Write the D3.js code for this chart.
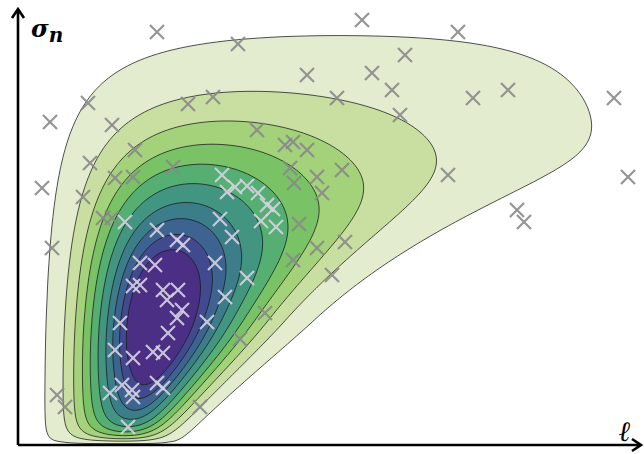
<!DOCTYPE html>
<html>
<head>
<meta charset="utf-8">
<script src="https://cdn.jsdelivr.net/npm/d3@7"></script>
<style>
  body { margin: 0; background: #fff; }
  svg { display: block; }
</style>
</head>
<body>
<div class="chart"></div>
<script>
// markers (sampled hyperparameters): length scale l and noise level sigma_n
const sampleL = [1.39, 2.20, 3.44, 4.40, 3.87, 3.54, 2.89, 3.74, 3.19, 3.82, 1.95, 1.70, 0.70, 4.55, 4.90, 5.96,
  0.32, 0.94, 2.39, 1.17, 4.30, 4.99, 5.06, 6.10, 0.24, 0.34, 0.72, 0.65, 2.67, 2.75, 2.89, 3.24, 2.72, 2.99,
  2.76, 3.04, 1.55, 0.97, 1.15, 2.04, 2.09, 2.17, 2.29, 2.40, 2.49, 2.55, 2.02, 2.14, 2.43, 2.58, 2.81, 3.27,
  2.99, 2.75, 3.14, 0.85, 0.94, 1.07, 1.39, 1.59, 1.65, 1.97, 2.29, 1.22, 1.37, 1.15, 1.22, 1.45, 1.60, 1.49,
  1.64, 1.59, 2.07, 1.89, 2.47, 2.22, 1.02, 1.50, 0.97, 1.15, 1.35, 1.45, 1.04, 0.92, 1.14, 1.15, 1.39, 1.45,
  1.10, 0.39, 0.47, 1.82];
const sampleS = [4.13, 4.01, 4.25, 4.13, 3.90, 3.72, 3.70, 3.55, 3.47, 3.30, 3.48, 3.41, 3.42, 3.47, 3.55, 3.47,
  3.23, 3.20, 3.15, 2.95, 2.70, 2.35, 2.23, 2.68, 2.57, 1.97, 2.82, 2.48, 3.00, 3.03, 2.95, 2.75, 2.77, 2.68,
  2.62, 2.52, 2.78, 2.67, 2.68, 2.70, 2.53, 2.58, 2.59, 2.52, 2.40, 2.36, 2.26, 2.08, 2.24, 2.18, 2.21, 2.03,
  1.97, 1.85, 1.70, 2.27, 2.27, 2.23, 2.15, 2.05, 2.00, 1.82, 1.67, 1.82, 1.80, 1.59, 1.60, 1.55, 1.55, 1.45,
  1.35, 1.27, 1.48, 1.23, 1.32, 1.06, 1.22, 1.12, 0.95, 0.87, 0.93, 0.92, 0.60, 0.52, 0.55, 0.48, 0.62, 0.57,
  0.18, 0.50, 0.38, 0.38];

// likelihood surface, shaped in (log l, -log(ceiling - sigma)) space around its peak
const peakL = 1.41, peakS = 1.25;
const spreadU = 0.5, spreadVUp = 0.37, spreadVDown = 0.32;
const bendLinear = 0.45, bendQuad = 0.24;
const lengthOffset = 0.03, noiseCeiling = 5.45, floorStart = 0.02, floorScale = 0.1;
// steep drop towards long length scale / small noise
const cliffStart = 0.78, cliffSlope = 1.6, cliffFoot = 3, cliffMax = 1.57, cliffBend = 0.09, cliffWidth = 0.29;

// each contour level is pinned where it crosses sigma_n = 1.45, left of the peak
const levelAnchorS = 1.45;
const levelAnchorL = [0.29, 0.48, 0.59, 0.68, 0.76, 0.84, 0.92, 0.99, 1.06, 1.13];
const levelColors = ['#e4ecd0', '#c9dfa2', '#a3d27a', '#79c266', '#55ae72', '#429580', '#3c7d8a', '#3d6490', '#424a8f', '#4a2f84'];

const lMax = 6.2, sMax = 4.37;

const softplus = t => t > 30 ? t : Math.log(1 + Math.exp(t));
const u0 = Math.log(peakL + lengthOffset), v0 = -Math.log(noiseCeiling - peakS);

function field(l, s) {
  const du = Math.log(l + lengthOffset) - u0, dv = -Math.log(noiseCeiling - s) - v0;
  const zu = (du - bendLinear * dv - bendQuad * dv * dv) / spreadU;
  const zv = dv / (dv > 0 ? spreadVUp : spreadVDown);
  const f = Math.exp(-0.5 * (zu * zu + zv * zv));
  const lin = cliffStart + cliffSlope * dv - cliffFoot * Math.min(0, dv) ** 2;
  const edge = cliffMax - cliffBend * softplus((cliffMax - lin) / cliffBend);
  const q = (edge - du) / cliffWidth;
  const cliff = q <= 0 ? 0 : 1 - Math.exp(-(q * q));
  const floor = s <= floorStart ? 0 : 1 - Math.exp(-(s - floorStart) / floorScale);
  return f * floor * cliff;
}

const width = 644, height = 454;
const svg = d3.select('.chart').append('svg').attr('width', width).attr('height', height);

const x = d3.scaleLinear().domain([0, lMax]).range([18, 638]);
const y = d3.scaleLinear().domain([0, sMax]).range([445, 8]);

//GRID
const step = 0.02;
const n = Math.round(lMax / step), m = Math.ceil(sMax / step);
const values = new Array(n * m);
for (let j = 0; j < m; j++)
  for (let i = 0; i < n; i++)
    values[j * n + i] = field((i + 0.5) * step, (j + 0.5) * step);

const thresholds = levelAnchorL.map(l => field(l, levelAnchorS));
const contours = d3.contours().size([n, m]).thresholds(thresholds)(values);

const path = d3.geoPath(d3.geoTransform({
  point: function (px, py) { this.stream.point(x(px * step), y(py * step)); }
}));

//FILLED CONTOURS
svg.append('g').selectAll('path')
  .data(contours)
  .join('path')
  .attr('d', path)
  .attr('fill', (d, i) => levelColors[i])
  .attr('stroke', '#1a1a1a')
  .attr('stroke-opacity', 0.85)
  .attr('stroke-width', 0.9);

//MARKERS
const samples = sampleL.map((l, i) => ({ l, s: sampleS[i] }));
const levelOf = d => thresholds.filter(t => field(d.l, d.s) >= t).length;
const cross = d3.symbol().type(d3.symbolX).size(130);
svg.append('g').selectAll('path')
  .data(samples)
  .join('path')
  .attr('transform', d => `translate(${x(d.l)},${y(d.s)})`)
  .attr('d', cross)
  .attr('fill', 'none')
  .attr('stroke', d => levelOf(d) >= 5 ? '#d6d1e2' : '#8a8a8a')
  .attr('stroke-opacity', 0.9)
  .attr('stroke-width', 2.2);

//AXES
const x0 = x(0), y0 = y(0), yTop = 9, xEnd = 641;
svg.append('path')
  .attr('d', `M${x0},${y0}V${yTop}M${x0 - 6},${yTop + 9}L${x0},${yTop}L${x0 + 6},${yTop + 9}`)
  .attr('fill', 'none').attr('stroke', '#000').attr('stroke-width', 2.6).attr('stroke-linejoin', 'miter');
svg.append('path')
  .attr('d', `M${x0},${y0}H${xEnd}M${xEnd - 9},${y0 - 6}L${xEnd},${y0}L${xEnd - 9},${y0 + 6}`)
  .attr('fill', 'none').attr('stroke', '#000').attr('stroke-width', 2.6);

const yLabel = svg.append('text')
  .attr('x', 31).attr('y', 37)
  .attr('font-family', 'DejaVu Serif').attr('font-style', 'italic').attr('font-weight', 'bold')
  .attr('font-size', 24);
yLabel.append('tspan').text('σ');
yLabel.append('tspan').attr('dy', 5).attr('font-size', 20).text('n');

svg.append('text')
  .attr('x', 619).attr('y', 441)
  .attr('font-family', 'DejaVu Serif').attr('font-style', 'italic').attr('font-weight', 'bold')
  .attr('font-size', 28)
  .text('ℓ');
</script>
</body>
</html>
